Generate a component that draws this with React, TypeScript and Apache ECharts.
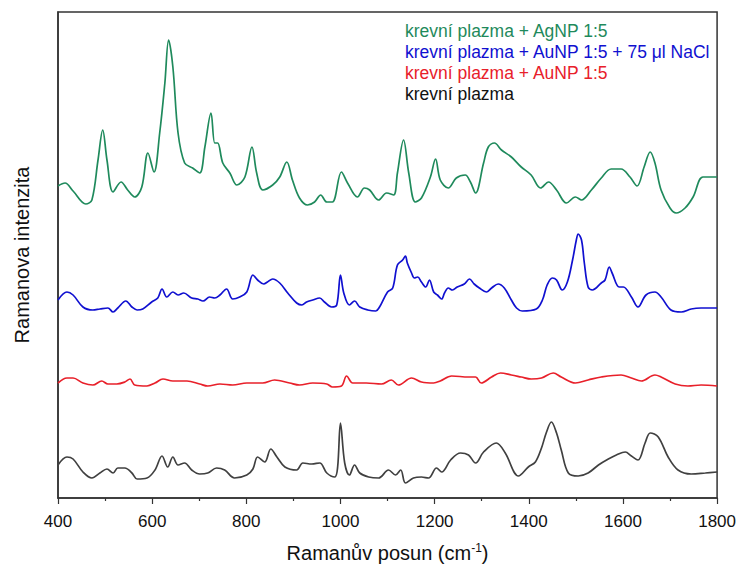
import React, { useEffect, useRef } from "react";
import * as echarts from "echarts";

const xTicks = [400, 600, 800, 1000, 1200, 1400, 1600, 1800];

const seriesNames = [
  "krevní plazma + AgNP 1:5",
  "krevní plazma + AuNP 1:5 + 75 μl NaCl",
  "krevní plazma + AuNP 1:5",
  "krevní plazma",
];
const seriesColors = ["#1f8a5c", "#1010d0", "#e8202a", "#404040"];

const agWn = [400,415,432,459,472,485,495,504,517,534,548,563,578,591,604,616,627,635,644,655,669,686,701,712,725,733,739,750,765,780,797,812,822,835,856,871,886,898,913,930,945,958,971,983,1002,1015,1036,1051,1062,1081,1098,1113,1121,1134,1145,1159,1172,1191,1202,1212,1229,1246,1265,1276,1287,1304,1314,1327,1342,1363,1384,1405,1425,1442,1459,1480,1499,1512,1533,1554,1575,1596,1615,1630,1645,1658,1668,1681,1700,1713,1732,1749,1770,1800];
const agInt = [312,315,307,294,298,338,368,338,306,316,308,301,311,345,326,365,415,458,431,365,335,330,325,351,385,355,355,335,325,313,321,351,325,308,313,321,336,318,300,293,296,303,296,296,326,315,301,310,308,298,305,303,325,358,325,296,300,321,339,318,310,320,323,316,305,335,351,355,348,341,331,323,310,316,308,295,301,298,308,320,329,329,321,312,331,346,335,308,290,285,290,301,321,321];

const auNaclWn = [400,419,432,453,474,489,506,517,527,544,557,568,580,599,612,621,631,644,655,667,684,697,708,722,733,744,758,771,786,801,814,824,837,845,856,871,888,907,918,928,941,956,966,981,992,1000,1007,1019,1030,1041,1058,1075,1083,1100,1111,1121,1132,1138,1142,1151,1157,1164,1172,1181,1189,1198,1206,1215,1221,1229,1238,1248,1263,1274,1284,1295,1310,1321,1335,1348,1363,1374,1386,1416,1429,1439,1450,1459,1471,1482,1493,1501,1505,1512,1518,1526,1535,1554,1562,1571,1577,1592,1601,1618,1632,1649,1668,1681,1702,1724,1745,1766,1800];
const auNaclInt = [198,206,203,191,188,189,190,186,190,197,191,188,189,196,200,209,201,206,203,205,200,199,197,201,200,203,209,199,201,206,223,218,214,216,219,215,205,195,193,196,198,200,196,191,193,223,205,193,197,191,188,187,191,206,210,233,238,242,235,225,220,221,216,211,218,206,203,199,205,210,208,211,214,219,214,210,206,210,214,210,198,190,187,189,198,213,220,218,208,216,238,258,264,258,235,211,208,215,218,231,225,211,211,201,191,203,206,201,188,186,189,190,190];

const auWn = [400,419,432,453,474,493,506,525,542,553,563,589,606,623,644,674,701,718,744,771,801,835,860,892,913,941,971,983,1002,1013,1026,1055,1087,1108,1123,1151,1172,1198,1212,1236,1272,1287,1299,1321,1340,1363,1384,1405,1427,1452,1469,1499,1526,1554,1596,1618,1639,1668,1681,1711,1738,1766,1800];
const auInt = [115,120,120,115,113,117,114,114,116,119,113,112,115,119,117,117,114,112,114,113,115,115,118,115,113,115,114,111,112,122,115,115,114,118,113,120,116,115,117,122,121,121,115,121,125,123,121,119,120,125,121,115,118,121,123,120,117,123,121,114,112,113,112];

const plasmaWn = [400,419,432,453,472,489,504,517,527,542,557,568,589,606,621,633,644,655,669,684,701,718,737,754,775,801,814,824,839,852,865,882,907,920,939,956,971,988,994,1000,1009,1019,1030,1041,1060,1081,1102,1117,1128,1138,1155,1172,1187,1204,1215,1234,1255,1272,1287,1304,1331,1350,1378,1399,1414,1427,1437,1448,1459,1469,1484,1505,1526,1548,1569,1586,1605,1618,1632,1647,1658,1675,1696,1717,1745,1775,1800];
const plasmaInt = [33,41,39,26,20,25,29,25,30,30,25,19,20,28,42,31,41,33,35,28,24,25,30,28,20,23,29,41,36,49,41,31,28,35,34,35,25,21,31,75,35,23,33,25,21,20,28,23,28,15,20,21,20,30,26,38,45,43,35,46,55,45,22,31,36,50,65,76,65,48,25,22,25,33,39,43,46,42,38,55,65,61,41,28,24,25,26];

const wnSets = [agWn, auNaclWn, auWn, plasmaWn];
const intSets = [agInt, auNaclInt, auInt, plasmaInt];

export default function App() {
  const ref = useRef<HTMLDivElement>(null);
  useEffect(() => {
    document.body.style.margin = "0";
    if (!ref.current) return;
    const chart = echarts.init(ref.current, null, { renderer: "svg" });
    const font = "Liberation Sans, Arial, sans-serif";
    chart.setOption({
      animation: false,
      backgroundColor: "#ffffff",
      textStyle: { fontFamily: font },
      grid: {
        left: 58,
        right: 21,
        top: 12,
        bottom: 70,
        show: true,
        borderColor: "#333333",
        borderWidth: 1.5,
        backgroundColor: "transparent",
      },
      legend: {
        show: true,
        orient: "vertical",
        left: 400,
        top: 22,
        icon: "none",
        itemWidth: 0,
        itemHeight: 16,
        itemGap: 3,
        padding: 0,
        selectedMode: false,
        data: seriesNames.map((n, i) => ({
          name: n,
          textStyle: { color: i === 3 ? "#111111" : seriesColors[i] },
        })),
        textStyle: { fontSize: 17.5, fontFamily: font, padding: [0, 0, 0, 0] },
      },
      xAxis: {
        type: "value",
        min: xTicks[0],
        max: xTicks[xTicks.length - 1],
        interval: 200,
        name: "Ramanův posun (cm{sup|-1})",
        nameLocation: "middle",
        nameGap: 44,
        nameTextStyle: {
          fontSize: 20,
          color: "#111111",
          fontFamily: font,
          rich: {
            sup: { fontSize: 12, verticalAlign: "top", padding: [0, 0, 10, 0], color: "#111111", fontFamily: font },
          },
        },
        axisLine: { show: true, onZero: false, lineStyle: { color: "#333333", width: 1.5 } },
        axisTick: { show: true, inside: false, length: 6, lineStyle: { color: "#333333", width: 1.2 } },
        minorTick: { show: true, splitNumber: 2, length: 3, lineStyle: { color: "#333333", width: 1.2 } },
        axisLabel: {
          fontSize: 17,
          color: "#111111",
          margin: 15,
          fontFamily: font,
          formatter: (v: number) => String(v),
        },
        splitLine: { show: false },
      },
      yAxis: {
        type: "value",
        min: 0,
        max: 486,
        name: "Ramanova intenzita",
        nameLocation: "middle",
        nameGap: 26,
        nameTextStyle: { fontSize: 20, color: "#111111", fontFamily: font },
        axisLine: { show: true, lineStyle: { color: "#333333", width: 1.5 } },
        axisTick: { show: false },
        axisLabel: { show: false },
        splitLine: { show: false },
      },
      series: seriesNames.map((n, i) => ({
        name: n,
        type: "line",
        showSymbol: false,
        symbol: "none",
        smooth: 0.35,
        lineStyle: { color: seriesColors[i], width: 1.7 },
        itemStyle: { color: seriesColors[i] },
        data: wnSets[i].map((w, k) => [w, intSets[i][k]]),
      })),
    });
    return () => chart.dispose();
  }, []);
  return <div ref={ref} style={{ width: 739, height: 568 }} />;
}
